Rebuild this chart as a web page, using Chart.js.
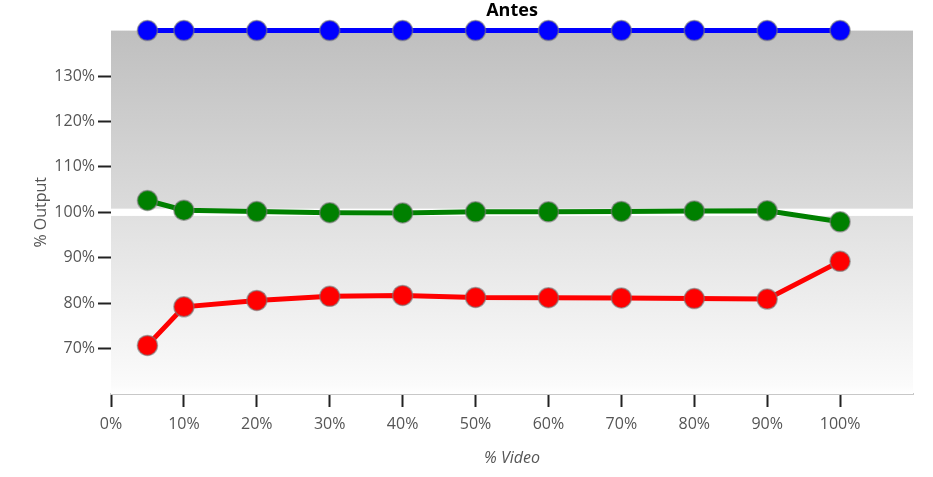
<!DOCTYPE html>
<html>
<head>
<meta charset="utf-8">
<script src="https://cdn.jsdelivr.net/npm/chart.js@4.4.0/dist/chart.umd.min.js"></script>
<style>
  html, body { margin: 0; padding: 0; background: #ffffff; }
  #wrap { width: 933px; height: 477px; }
</style>
</head>
<body>
<div id="wrap"><canvas id="c" width="933" height="477"></canvas></div>
<script>
const videoPct = [5, 10, 20, 30, 40, 50, 60, 70, 80, 90, 100];
const blueSeries = [140, 140, 140, 140, 140, 140, 140, 140, 140, 140, 140];
const greenSeries = [102.6, 100.45, 100.15, 99.9, 99.85, 100.1, 100.1, 100.2, 100.3, 100.35, 97.9];
const redSeries = [70.7, 79.2, 80.6, 81.5, 81.7, 81.25, 81.2, 81.15, 81.0, 80.9, 89.2];
const yHiddenTicks = [60, 140];
const xHiddenTicks = [110];

const FONT = "'Open Sans', 'Noto Sans', sans-serif";

function toPoints(vals) { return videoPct.map((x, i) => ({ x: x, y: vals[i] })); }

const bandPlugin = {
  id: 'bands',
  beforeDatasetsDraw(chart) {
    const { ctx, chartArea, scales } = chart;
    const y = scales.y;
    const l = chartArea.left, r = chartArea.right;
    const yTop = y.getPixelForValue(140);
    const yUpBottom = y.getPixelForValue(100.8);
    const yLowTop = y.getPixelForValue(99.2);
    const yBot = y.getPixelForValue(60);
    ctx.save();
    let g = ctx.createLinearGradient(0, yTop, 0, yUpBottom);
    g.addColorStop(0, '#bfbfbf');
    g.addColorStop(1, '#dbdbdb');
    ctx.fillStyle = g;
    ctx.fillRect(l, yTop, r - l, yUpBottom - yTop);
    g = ctx.createLinearGradient(0, yLowTop, 0, yBot);
    g.addColorStop(0, '#e0e0e0');
    g.addColorStop(0.95, '#fbfbfb');
    g.addColorStop(1, '#ffffff');
    ctx.fillStyle = g;
    ctx.fillRect(l, yLowTop, r - l, yBot - yLowTop);
    ctx.restore();
  }
};

function ds(label, vals, color) {
  return {
    label: label,
    data: toPoints(vals),
    borderColor: color,
    backgroundColor: color,
    borderWidth: 5,
    pointRadius: 10,
    pointHoverRadius: 10,
    pointBackgroundColor: color,
    pointBorderColor: 'rgba(120,120,120,0.6)',
    pointBorderWidth: 1.5,
    tension: 0,
    clip: false
  };
}

new Chart(document.getElementById('c'), {
  type: 'line',
  data: {
    datasets: [
      ds('Blue', blueSeries, '#0000ff'),
      ds('Green', greenSeries, '#008000'),
      ds('Red', redSeries, '#ff0000')
    ]
  },
  options: {
    responsive: false,
    animation: false,
    devicePixelRatio: 1,
    layout: { padding: { left: 0, right: 20, top: 0, bottom: 0 } },
    plugins: {
      legend: { display: false },
      tooltip: { enabled: false },
      title: {
        display: true,
        text: 'Antes',
        fullSize: false,
        color: '#000000',
        font: { family: FONT, size: 18, weight: 'bold', lineHeight: 1.2 },
        padding: { top: 0, bottom: 9 }
      }
    },
    scales: {
      x: {
        type: 'linear',
        min: 0,
        max: 110,
        afterFit(s) { s.height = 83; },
        ticks: {
          stepSize: 10,
          color: '#555555',
          padding: 8,
          maxRotation: 0,
          font: { family: FONT, size: 16 },
          callback: v => xHiddenTicks.includes(v) ? '' : v + '%'
        },
        grid: {
          drawOnChartArea: false,
          drawTicks: true,
          tickLength: 13,
          tickWidth: 2,
          tickColor: c => (c.tick && xHiddenTicks.includes(c.tick.value)) ? 'rgba(0,0,0,0)' : '#222222'
        },
        border: { display: true, color: '#c8c8c8', width: 2 },
        title: {
          display: true,
          text: '% Video',
          color: '#555555',
          font: { family: FONT, size: 16, style: 'italic' },
          padding: { top: 0, bottom: 9 }
        }
      },
      y: {
        type: 'linear',
        min: 60,
        max: 140,
        afterFit(s) { s.width = 111; },
        ticks: {
          stepSize: 10,
          color: '#555555',
          padding: 3,
          font: { family: FONT, size: 16 },
          callback: v => yHiddenTicks.includes(v) ? '' : v + '%'
        },
        grid: {
          drawOnChartArea: false,
          drawTicks: true,
          tickLength: 13,
          tickWidth: 2,
          tickColor: c => (c.tick && yHiddenTicks.includes(c.tick.value)) ? 'rgba(0,0,0,0)' : '#222222'
        },
        border: { display: false },
        title: {
          display: true,
          text: '% Output',
          color: '#555555',
          font: { family: FONT, size: 16 },
          padding: { top: 32, bottom: 0 }
        }
      }
    }
  },
  plugins: [bandPlugin]
});
</script>
</body>
</html>
